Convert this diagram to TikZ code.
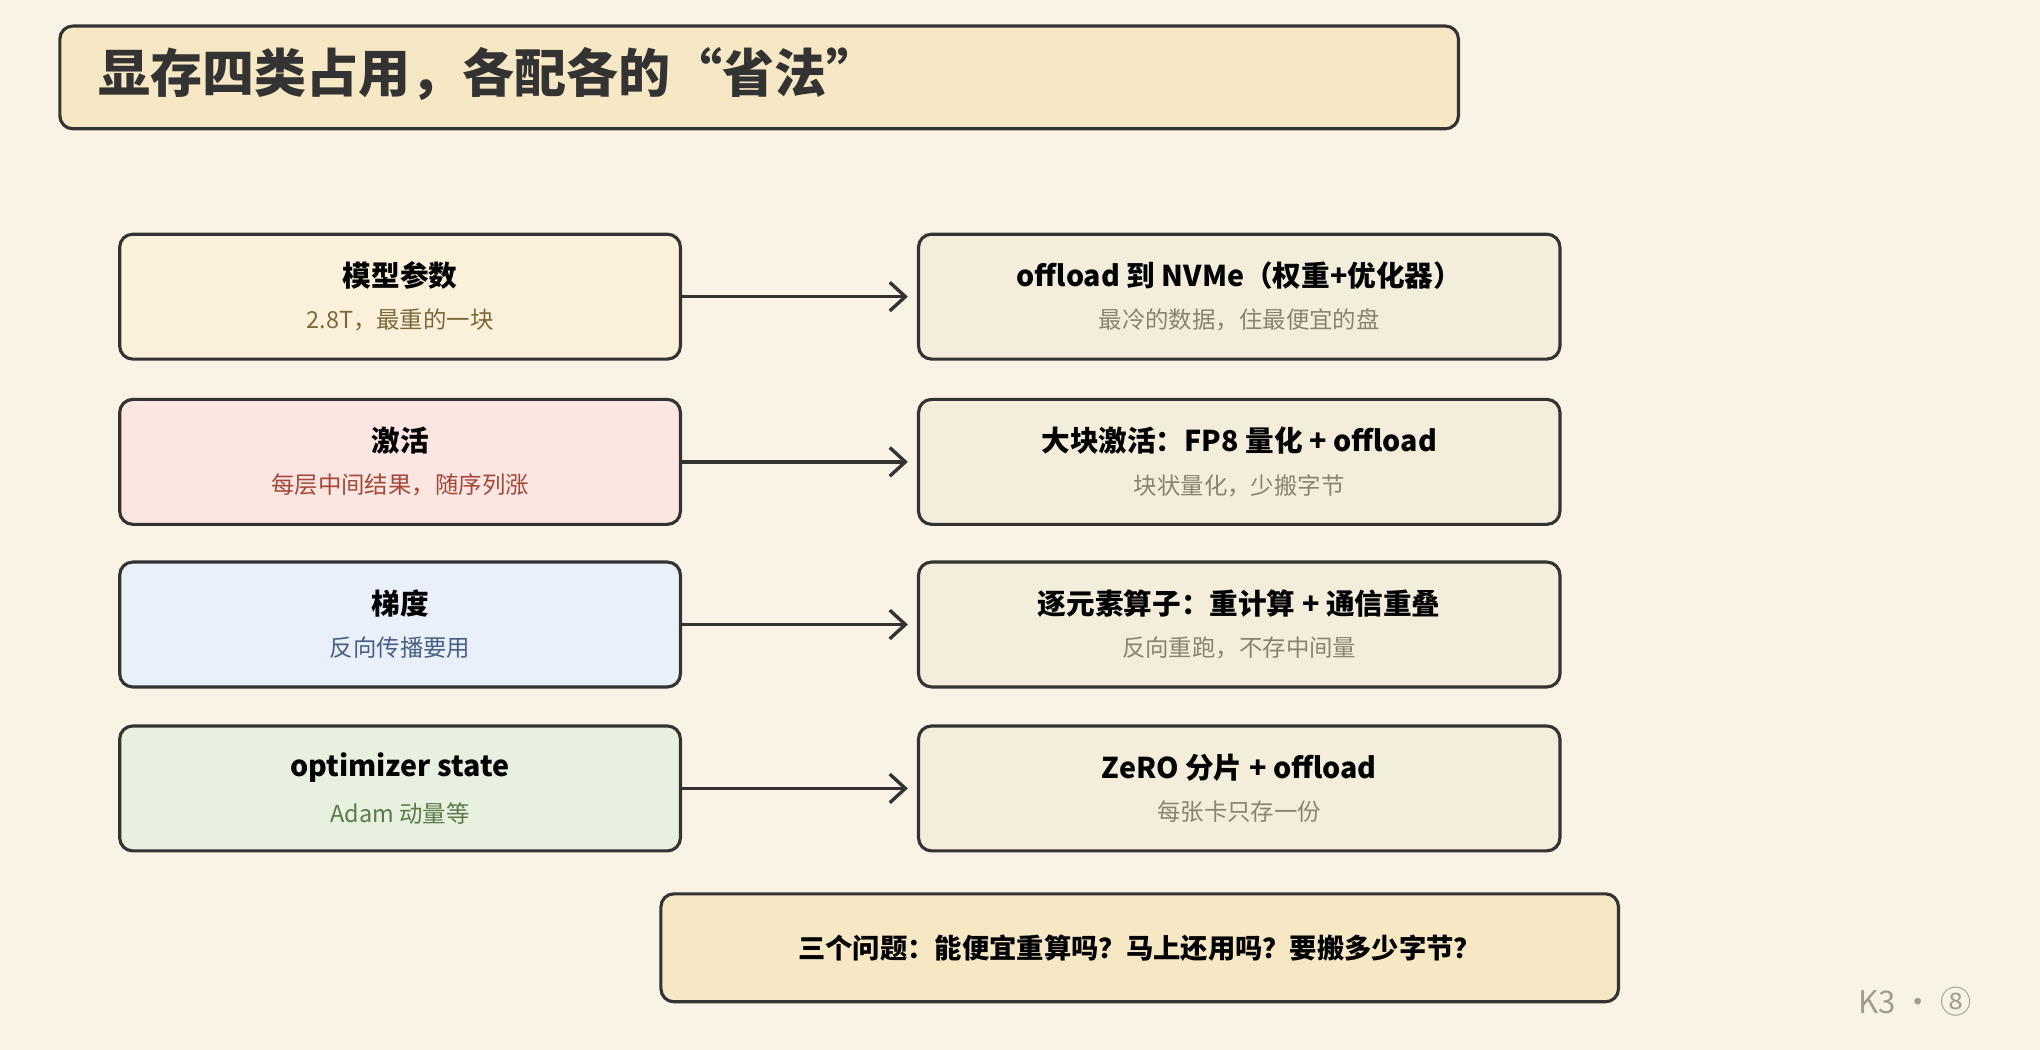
\documentclass[tikz,border=0pt]{standalone}
\usepackage{fontspec}
\setmainfont{Noto Sans CJK SC}
\usetikzlibrary{positioning,arrows.meta}
\definecolor{bg}{HTML}{F9F3E6}
\definecolor{ink}{HTML}{333333}
\definecolor{titlefill}{HTML}{F6E8C4}
\definecolor{parfill}{HTML}{FBF0D9}
\definecolor{actfill}{HTML}{FBE6E1}
\definecolor{gradfill}{HTML}{E9F0FA}
\definecolor{optfill}{HTML}{E8F1E0}
\definecolor{fixfill}{HTML}{F3EDDC}
\definecolor{partxt}{HTML}{7A6A3A}
\definecolor{acttxt}{HTML}{A5473A}
\definecolor{gradtxt}{HTML}{4A5F85}
\definecolor{opttxt}{HTML}{5A7A4A}
\definecolor{fixtxt}{HTML}{8A8370}
\tikzset{
  box/.style={draw=ink,line width=2.4pt,rounded corners=10pt,minimum width=431pt,minimum height=96pt,align=center},
  fixbox/.style={box,minimum width=493pt,fill=fixfill},
  link/.style={draw=ink,line width=2.6pt,shorten >=7pt,-{Straight Barb[length=12pt,width=22pt]}}
}
\newcommand{\cell}[3]{{\fontsize{22}{26}\selectfont\bfseries #1}\\[14pt]{\fontsize{18}{22}\selectfont\color{#3}#2}}
\begin{document}
\begin{tikzpicture}[x=1pt,y=-1pt]
\fill[bg] (0,0) rectangle (1568,807);
\useasboundingbox (0,0) rectangle (1568,807);
%title
\node[draw=ink,line width=2.4pt,rounded corners=10pt,fill=titlefill,minimum width=1075pt,minimum height=79pt] (title) at (583.5,59.5) {};
\node[anchor=west,font=\fontsize{40}{46}\selectfont\bfseries,text=ink] (titletxt) at (72,57) {显存四类占用，各配各的“省法”};
%left column
\node[box,fill=parfill] (param) at (307.5,228) {\cell{模型参数}{2.8T，最重的一块}{partxt}};
\node[box,fill=actfill] (act) at (307.5,355) {\cell{激活}{每层中间结果，随序列涨}{acttxt}};
\node[box,fill=gradfill] (grad) at (307.5,480) {\cell{梯度}{反向传播要用}{gradtxt}};
\node[box,fill=optfill] (opt) at (307.5,606) {\cell{optimizer state}{Adam 动量等}{opttxt}};
%right column
\node[fixbox] (paramfix) at (952.5,228) {\cell{offload 到 NVMe（权重+优化器）}{最冷的数据，住最便宜的盘}{fixtxt}};
\node[fixbox] (actfix) at (952.5,355) {\cell{大块激活：FP8 量化 + offload}{块状量化，少搬字节}{fixtxt}};
\node[fixbox] (gradfix) at (952.5,480) {\cell{逐元素算子：重计算 + 通信重叠}{反向重跑，不存中间量}{fixtxt}};
\node[fixbox] (optfix) at (952.5,606) {\cell{ZeRO 分片 + offload}{每张卡只存一份}{fixtxt}};
%arrows
\foreach \a/\b in {param/paramfix,act/actfix,grad/gradfix,opt/optfix}
  \draw[link] (\a.east) -- (\b.west);
%question
\node[draw=ink,line width=2.4pt,rounded corners=10pt,fill=titlefill,minimum width=736pt,minimum height=83pt,font=\fontsize{21}{26}\selectfont\bfseries] (ask) at (876,728.5) {三个问题：能便宜重算吗？马上还用吗？要搬多少字节？};
%footer
\node[text=fixtxt!80,font=\fontsize{24}{28}\selectfont] (page) at (1472,770) {K3 · ⑧};
\end{tikzpicture}
\end{document}
